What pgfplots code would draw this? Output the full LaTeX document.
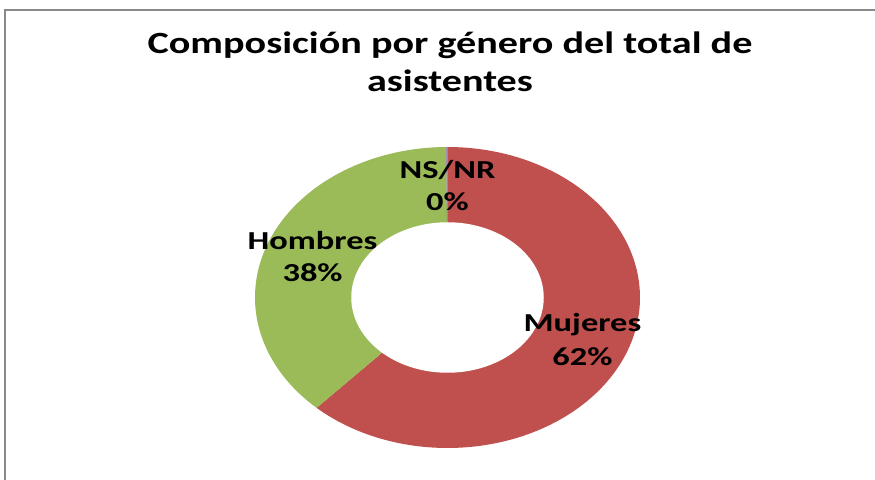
\documentclass[border=0pt]{standalone}
\usepackage{pgfplots}
\pgfplotsset{compat=1.18}
\usepackage{pgfplotstable}
\usepackage{fontspec}
\newfontfamily\chartfont{Carlito}[FakeStretch=1.33]
\newfontfamily\titlefont{Carlito}[FakeStretch=1.30]
\definecolor{mujeres}{HTML}{C0504D}
\definecolor{hombres}{HTML}{9BBB59}
\definecolor{nsnr}{HTML}{8064A2}
\definecolor{framegray}{HTML}{898989}

\pgfplotstableread{
label value
Mujeres 61.9
Hombres 38.0
NS/NR 0.1
}\slices

\begin{document}
\begin{tikzpicture}
\useasboundingbox (0bp,0bp) rectangle (875bp,480bp);
\fill[white] (0bp,0bp) rectangle (875bp,480bp);
\draw[framegray, line width=1.5bp] (5bp,-5bp) -- (5bp,470bp) -- (880bp,470bp);
\pgfplotstablegetelem{0}{value}\of\slices \pgfmathsetmacro\vA{\pgfplotsretval}
\pgfplotstablegetelem{1}{value}\of\slices \pgfmathsetmacro\vB{\pgfplotsretval}
\pgfplotstablegetelem{2}{value}\of\slices \pgfmathsetmacro\vC{\pgfplotsretval}
\pgfmathsetmacro\aZero{90}
\pgfmathsetmacro\aOne{90-3.6*\vA}
\pgfmathsetmacro\aTwo{90-3.6*(\vA+\vB)}
\pgfmathsetmacro\aThree{90-3.6*(\vA+\vB+\vC)}
\node[anchor=base, font=\titlefont\bfseries\fontsize{31}{37}\selectfont] at (450bp,426bp) {Composición por género del total de};
\node[anchor=base, font=\titlefont\bfseries\fontsize{31}{37}\selectfont] at (450bp,388bp) {asistentes};
\begin{axis}[at={(447.5bp,182.5bp)}, anchor=center, width=385bp, height=301bp,
  scale only axis, hide axis, xmin=-1, xmax=1, ymin=-1, ymax=1, clip=false]
\addplot[draw=none, fill=mujeres, domain=\aOne:\aZero, samples=150, variable=\t] ({cos(\t)},{sin(\t)}) -- (axis cs:0,0) -- cycle;
\addplot[draw=none, fill=hombres, domain=\aTwo:\aOne, samples=120, variable=\t] ({cos(\t)},{sin(\t)}) -- (axis cs:0,0) -- cycle;
\addplot[draw=none, fill=nsnr, domain=\aThree:\aTwo, samples=3, variable=\t] ({cos(\t)},{sin(\t)}) -- (axis cs:0,0) -- cycle;
\addplot[draw=none, fill=white, domain=0:360, samples=181, variable=\t] ({0.5*cos(\t)},{0.5*sin(\t)}) -- cycle;
\tikzset{lbl/.style={anchor=base, font=\chartfont\bfseries\fontsize{26}{32}\selectfont}}
\node[lbl] at (axis cs:0,0.792) {NS/NR};
\node[lbl] at (axis cs:0,0.581) {0\%};
\node[lbl] at (axis cs:-0.701,0.316) {Hombres};
\node[lbl] at (axis cs:-0.701,0.103) {38\%};
\node[lbl] at (axis cs:0.701,-0.227) {Mujeres};
\node[lbl] at (axis cs:0.701,-0.449) {62\%};
\end{axis}
\end{tikzpicture}
\end{document}
